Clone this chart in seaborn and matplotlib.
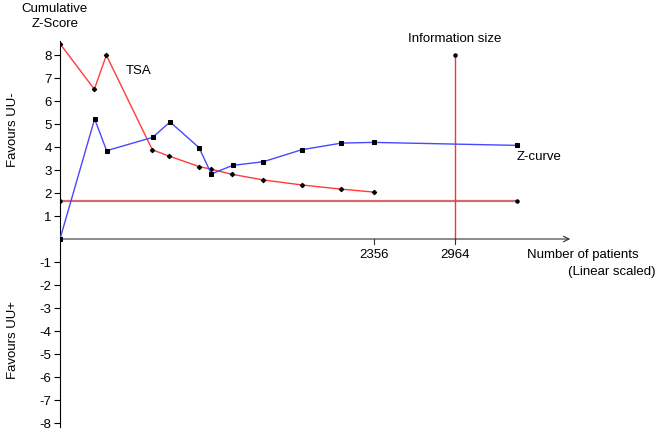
import matplotlib
matplotlib.use("Agg")
import matplotlib.pyplot as plt
import seaborn as sns
import pandas as pd

z_x = [0, 260, 350, 696, 826, 1044, 1136, 1296, 1526, 1814, 2112, 2356, 3431]
z_y = [0, 5.22, 3.84, 4.42, 5.09, 3.97, 2.83, 3.2, 3.36, 3.88, 4.17, 4.2, 4.07]
tsa_x = [0, 258, 348, 693, 821, 1044, 1131, 1294, 1524, 1814, 2107, 2356]
tsa_y = [8.49, 6.51, 7.99, 3.88, 3.6, 3.15, 3.04, 2.81, 2.57, 2.35, 2.17, 2.04]
conv_x = [0, 3431]
conv_y = [1.65, 1.65]
info_size = 2964
xticks = [2356, 2964]
yticks = [1, 2, 3, 4, 5, 6, 7, 8, -1, -2, -3, -4, -5, -6, -7, -8]

FS = 9.5
plt.rcParams["font.family"] = "Liberation Sans"
fig = plt.figure(figsize=(6.6, 4.28), dpi=100)
ax = fig.add_axes([60/660, 1-427.6/428, 513/660, (427.6-36.6)/428])
ax.set_xlim(0, 3851)
ax.set_ylim(-8.2, 8.8)

ax.plot(conv_x, conv_y, color="#d46a6a", lw=1.6, zorder=2)
ax.plot(conv_x, conv_y, "o", color="black", ms=2.2, zorder=4)
ax.plot([info_size, info_size], [0, 8], color="#ff3030", lw=1, zorder=2)
ax.plot([info_size], [8], "o", color="black", ms=2.2, zorder=4)

sns.lineplot(data=pd.DataFrame({"x": tsa_x, "y": tsa_y}), x="x", y="y", ax=ax,
             color="#ff3b3b", lw=1, marker="D", markersize=2.3, markerfacecolor="black",
             markeredgecolor="black", sort=False, zorder=3)
sns.lineplot(data=pd.DataFrame({"x": z_x, "y": z_y}), x="x", y="y", ax=ax,
             color="#4848ff", lw=1, marker="s", markersize=3, markerfacecolor="black",
             markeredgecolor="black", sort=False, zorder=3)

for s in ["top", "right", "bottom"]:
    ax.spines[s].set_visible(False)
ax.spines["left"].set_bounds(-8.2, 8.6)
ax.spines["left"].set_linewidth(0.8)
ax.annotate("", xy=(3851, 0), xytext=(0, 0),
            arrowprops=dict(arrowstyle="->", lw=0.8, color="#333333"))
ax.set_yticks(yticks)
ax.set_yticklabels([str(t) for t in yticks], fontsize=FS)
ax.tick_params(axis="y", length=4, width=0.8, pad=2)
ax.set_xticks([])
ax.set_xlabel("")
ax.set_ylabel("")
for t in xticks:
    ax.plot([t, t], [0, -0.2], color="#333333", lw=0.8)
    ax.text(t, -0.45, str(t), ha="center", va="top", fontsize=FS)

fig.text(55/660, 1-30/428, "Cumulative\nZ-Score", ha="center", va="bottom", fontsize=FS,
         linespacing=1.3)
fig.text(13/660, 1-130/428, "Favours UU-", rotation=90, ha="center", va="center", fontsize=FS)
fig.text(13/660, 1-340/428, "Favours UU+", rotation=90, ha="center", va="center", fontsize=FS)
ax.text(490, 7.3, "TSA", ha="left", va="center", fontsize=FS)
ax.text(info_size, 8.45, "Information size", ha="center", va="bottom", fontsize=FS)
ax.text(3431, 3.55, "Z-curve", ha="left", va="center", fontsize=FS)
fig.text(527/660, 1-255/428, "Number of patients", ha="left", va="center", fontsize=FS)
fig.text(655/660, 1-272/428, "(Linear scaled)", ha="right", va="center", fontsize=FS)

fig.savefig("out.png", dpi=100)
